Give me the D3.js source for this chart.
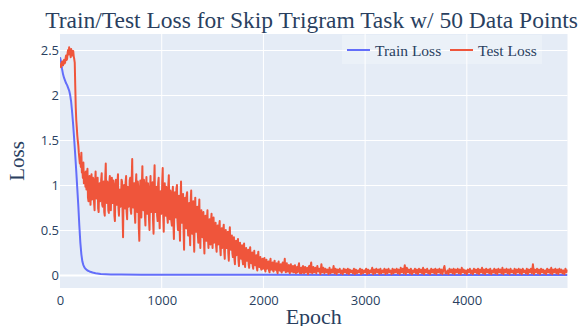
<!DOCTYPE html>
<html>
<head>
<meta charset="utf-8">
<script src="https://cdn.jsdelivr.net/npm/d3@7/dist/d3.min.js"></script>
<style>
  html, body { margin: 0; padding: 0; background: #ffffff; }
  svg { display: block; }
</style>
</head>
<body>
<svg id="chart" width="585" height="326"></svg>
<script>
// ---- data -------------------------------------------------------------
const titleText = "Train/Test Loss for Skip Trigram Task w/ 50 Data Points";
const seriesNames = ["Train Loss", "Test Loss"];
const xTicks = [0, 1000, 2000, 3000, 4000];
const yTicks = [0, 0.5, 1, 1.5, 2, 2.5];
const yTickLabels = ["0", "0.5", "1", "1.5", "2", "2.5"];

// train loss, logged at these epochs
const trainEpochs = [0, 10, 20, 30, 40, 50, 60, 70, 80, 90, 100, 110, 120, 130, 140, 150,
  160, 170, 180, 190, 200, 210, 220, 230, 240, 250, 270, 290, 320, 350, 400, 450, 500,
  600, 800, 1000, 1500, 2000, 3000, 4000, 4990];
const trainLoss = [2.42, 2.37, 2.29, 2.23, 2.19, 2.16, 2.13, 2.11, 2.08, 2.05, 2.00, 1.92,
  1.80, 1.66, 1.50, 1.33, 1.15, 0.96, 0.77, 0.55, 0.36, 0.23, 0.15, 0.11, 0.085, 0.07,
  0.05, 0.04, 0.028, 0.02, 0.012, 0.009, 0.007, 0.005, 0.004, 0.003, 0.002, 0.002,
  0.001, 0.001, 0.001];

// test loss, every 5 epochs during epochs 0 .. 2495
const testStepEarly = 5;
const testLossEarly = [
  2.35, 2.33, 2.31, 2.36, 2.37, 2.34, 2.33, 2.38, 2.39, 2.35, 2.36, 2.41, 2.44, 2.39, 2.40, 2.47, 2.50, 2.45, 2.53, 2.48,
  2.47, 2.42, 2.51, 2.46, 2.44, 2.49, 2.49, 2.43, 2.40, 2.36, 2.10, 1.86, 1.72, 1.64, 1.55, 1.49, 1.44, 1.36, 1.30, 1.24,
  1.30, 1.20, 1.36, 1.14, 1.18, 1.08, 1.25, 1.02, 1.08, 1.14, 0.98, 1.15, 0.95, 1.10, 1.18, 0.86, 0.82, 1.08, 1.10, 0.90,
  0.78, 1.05, 1.12, 0.84, 0.92, 1.08, 1.05, 0.80, 0.72, 1.02, 1.15, 0.88, 0.85, 1.06, 1.08, 0.74, 0.70, 0.98, 1.02, 0.82,
  0.88, 1.06, 1.13, 0.78, 0.76, 1.00, 1.04, 0.70, 0.66, 1.08, 1.24, 0.82, 0.80, 1.04, 0.98, 0.72, 0.69, 1.02, 1.10, 0.84,
  0.72, 1.00, 1.08, 0.80, 0.85, 1.05, 0.99, 0.66, 0.60, 0.96, 1.06, 0.84, 0.78, 1.02, 1.12, 0.74, 0.66, 0.94, 0.95, 0.76,
  0.82, 1.06, 1.04, 0.70, 0.42, 0.92, 1.00, 0.78, 0.74, 1.03, 1.10, 0.70, 0.62, 0.98, 0.97, 0.76, 0.80, 1.05, 1.08, 0.72,
  0.68, 1.05, 1.29, 0.80, 0.75, 0.98, 1.02, 0.68, 0.58, 1.00, 1.12, 0.78, 0.70, 1.04, 0.96, 0.52, 0.38, 0.90, 1.05, 0.74,
  0.64, 1.00, 1.21, 0.82, 0.72, 1.06, 1.00, 0.66, 0.55, 0.96, 1.09, 0.74, 0.68, 1.02, 0.94, 0.62, 0.50, 0.92, 1.10, 0.70,
  0.74, 0.98, 1.03, 0.60, 0.46, 1.00, 1.22, 0.76, 0.70, 0.94, 0.98, 0.66, 0.60, 1.02, 1.08, 0.70, 0.52, 0.88, 0.93, 0.68,
  0.76, 1.04, 1.19, 0.66, 0.48, 0.90, 1.02, 0.72, 0.66, 0.98, 0.95, 0.64, 0.58, 1.00, 1.11, 0.70, 0.62, 0.94, 0.90, 0.60,
  0.55, 0.90, 0.98, 0.58, 0.40, 0.86, 0.92, 0.66, 0.64, 0.96, 1.00, 0.60, 0.50, 0.84, 0.88, 0.56, 0.38, 0.80, 1.04, 0.62,
  0.58, 0.84, 0.90, 0.50, 0.28, 0.76, 0.86, 0.60, 0.52, 0.88, 0.92, 0.56, 0.44, 0.78, 0.80, 0.48, 0.33, 0.82, 0.94, 0.54,
  0.46, 0.76, 0.82, 0.44, 0.26, 0.70, 0.86, 0.56, 0.48, 0.72, 0.76, 0.46, 0.36, 0.70, 0.84, 0.50, 0.30, 0.64, 0.72, 0.44,
  0.42, 0.64, 0.70, 0.38, 0.24, 0.58, 0.66, 0.42, 0.38, 0.62, 0.72, 0.40, 0.30, 0.56, 0.62, 0.36, 0.34, 0.60, 0.68, 0.40,
  0.30, 0.56, 0.64, 0.36, 0.40, 0.52, 0.58, 0.32, 0.26, 0.50, 0.55, 0.34, 0.36, 0.54, 0.60, 0.30, 0.22, 0.46, 0.52, 0.30,
  0.33, 0.50, 0.56, 0.26, 0.18, 0.44, 0.50, 0.30, 0.30, 0.46, 0.48, 0.24, 0.16, 0.42, 0.53, 0.30, 0.28, 0.40, 0.44, 0.24,
  0.20, 0.36, 0.42, 0.18, 0.12, 0.32, 0.38, 0.22, 0.24, 0.36, 0.40, 0.16, 0.10, 0.30, 0.36, 0.20, 0.18, 0.30, 0.33, 0.16,
  0.12, 0.28, 0.35, 0.14, 0.09, 0.26, 0.30, 0.16, 0.16, 0.24, 0.28, 0.12, 0.08, 0.24, 0.31, 0.15, 0.13, 0.22, 0.25, 0.10,
  0.07, 0.21, 0.27, 0.12, 0.11, 0.19, 0.22, 0.08, 0.05, 0.20, 0.26, 0.10, 0.09, 0.17, 0.20, 0.08, 0.06, 0.15, 0.18, 0.07,
  0.10, 0.16, 0.19, 0.06, 0.04, 0.14, 0.17, 0.07, 0.08, 0.13, 0.15, 0.05, 0.03, 0.14, 0.18, 0.06, 0.07, 0.12, 0.14, 0.05,
  0.04, 0.12, 0.16, 0.07, 0.06, 0.11, 0.13, 0.04, 0.02, 0.12, 0.15, 0.06, 0.05, 0.10, 0.12, 0.04, 0.03, 0.11, 0.14, 0.05,
  0.06, 0.12, 0.18, 0.05, 0.03, 0.10, 0.13, 0.04, 0.05, 0.09, 0.11, 0.03, 0.02, 0.09, 0.12, 0.04, 0.04, 0.08, 0.10, 0.03,
  0.03, 0.08, 0.11, 0.04, 0.02, 0.07, 0.09, 0.03, 0.04, 0.10, 0.13, 0.05, 0.02, 0.07, 0.08, 0.02, 0.03, 0.09, 0.10, 0.04,
  0.02, 0.07, 0.09, 0.03, 0.04, 0.06, 0.08, 0.02, 0.01, 0.08, 0.10, 0.04, 0.03, 0.11, 0.14, 0.05, 0.02, 0.07, 0.09, 0.03
];

// test loss, every 10 epochs during epochs 2500 .. 4990
const testStartLate = 2500;
const testStepLate = 10;
const testLossLate = [
  0.03, 0.08, 0.02, 0.10, 0.04, 0.07, 0.01, 0.12, 0.03, 0.08,
  0.02, 0.07, 0.03, 0.06, 0.01, 0.08, 0.02, 0.06, 0.03, 0.10,
  0.02, 0.07, 0.01, 0.06, 0.03, 0.07, 0.02, 0.05, 0.01, 0.07,
  0.03, 0.06, 0.02, 0.07, 0.01, 0.06, 0.03, 0.05, 0.02, 0.07,
  0.01, 0.06, 0.02, 0.05, 0.03, 0.07, 0.01, 0.06, 0.02, 0.05,
  0.03, 0.07, 0.01, 0.06, 0.02, 0.05, 0.03, 0.08, 0.01, 0.06,
  0.02, 0.07, 0.03, 0.06, 0.01, 0.07, 0.02, 0.05, 0.03, 0.07,
  0.01, 0.06, 0.02, 0.07, 0.03, 0.05, 0.01, 0.07, 0.02, 0.06,
  0.03, 0.07, 0.02, 0.06, 0.01, 0.08, 0.03, 0.07, 0.02, 0.11,
  0.01, 0.08, 0.03, 0.06, 0.02, 0.07, 0.01, 0.05, 0.03, 0.07,
  0.02, 0.06, 0.01, 0.07, 0.03, 0.06, 0.02, 0.08, 0.01, 0.06,
  0.03, 0.07, 0.02, 0.05, 0.01, 0.07, 0.03, 0.06, 0.02, 0.07,
  0.01, 0.06, 0.03, 0.07, 0.02, 0.06, 0.01, 0.06, 0.10, 0.02,
  0.02, 0.05, 0.01, 0.07, 0.03, 0.06, 0.02, 0.07, 0.01, 0.06,
  0.03, 0.07, 0.02, 0.06, 0.01, 0.08, 0.03, 0.06, 0.02, 0.05,
  0.01, 0.06, 0.03, 0.07, 0.02, 0.05, 0.01, 0.07, 0.03, 0.06,
  0.02, 0.07, 0.01, 0.06, 0.03, 0.08, 0.02, 0.06, 0.01, 0.07,
  0.03, 0.06, 0.02, 0.07, 0.01, 0.05, 0.03, 0.07, 0.02, 0.06,
  0.01, 0.07, 0.03, 0.06, 0.02, 0.08, 0.01, 0.06, 0.03, 0.07,
  0.02, 0.06, 0.01, 0.07, 0.03, 0.05, 0.02, 0.07, 0.01, 0.06,
  0.03, 0.07, 0.02, 0.06, 0.01, 0.07, 0.03, 0.05, 0.02, 0.07,
  0.01, 0.06, 0.03, 0.07, 0.02, 0.12, 0.01, 0.06, 0.03, 0.07,
  0.02, 0.06, 0.01, 0.07, 0.03, 0.06, 0.02, 0.05, 0.01, 0.07,
  0.03, 0.06, 0.02, 0.08, 0.01, 0.06, 0.03, 0.07, 0.02, 0.06,
  0.01, 0.07, 0.03, 0.06, 0.02, 0.05, 0.01, 0.07, 0.03, 0.06
];

// ---- layout -----------------------------------------------------------
const plot = { left: 60, right: 567.5, top: 34, bottom: 288 };
const colors = { train: "#636efa", test: "#ef553b", bg: "#e5ecf6", text: "#2a3f5f" };
const serif = "'Liberation Serif', 'Times New Roman', serif";
const sans = "'Open Sans', 'Noto Sans', sans-serif";

const svg = d3.select("#chart");

const x = d3.scaleLinear().domain([0, 4990]).range([plot.left, plot.right]);
const y = d3.scaleLinear().domain([-0.144, 2.678]).range([plot.bottom, plot.top]);

// plot background
svg.append("rect")
  .attr("x", plot.left).attr("y", plot.top)
  .attr("width", plot.right - plot.left).attr("height", plot.bottom - plot.top)
  .attr("fill", colors.bg);

// grid
const grid = svg.append("g");
grid.selectAll("line.gx").data(xTicks.filter(d => d > 0)).join("line")
  .attr("x1", d => x(d)).attr("x2", d => x(d))
  .attr("y1", plot.top).attr("y2", plot.bottom)
  .attr("stroke", "#ffffff").attr("stroke-width", 1);
grid.selectAll("line.gy").data(yTicks).join("line")
  .attr("x1", plot.left).attr("x2", plot.right)
  .attr("y1", d => Math.round(y(d)) + 0.5).attr("y2", d => Math.round(y(d)) + 0.5)
  .attr("stroke", "#ffffff").attr("stroke-width", d => d === 0 ? 2 : 1);

// axes (tick text only, no domain path)
const xAxis = d3.axisBottom(x).tickValues(xTicks).tickSize(0).tickPadding(0).tickFormat(d3.format("d"));
const gx = svg.append("g").attr("transform", `translate(0,${plot.bottom})`).call(xAxis);
gx.select(".domain").remove();
gx.selectAll("text")
  .attr("y", 17).attr("dy", 0)
  .style("font-family", sans).style("font-size", "13px").attr("fill", colors.text);

const yAxis = d3.axisLeft(y).tickValues(yTicks).tickSize(0).tickPadding(0)
  .tickFormat((d, i) => yTickLabels[i]);
const gy = svg.append("g").attr("transform", `translate(${plot.left - 1},0)`).call(yAxis);
gy.select(".domain").remove();
gy.selectAll("text")
  .attr("x", 0).attr("dy", "0.35em")
  .style("font-family", sans).style("font-size", "13px").attr("fill", colors.text);

// clip for the traces
svg.append("clipPath").attr("id", "plotclip").append("rect")
  .attr("x", plot.left).attr("y", plot.top)
  .attr("width", plot.right - plot.left).attr("height", plot.bottom - plot.top);

const traces = svg.append("g").attr("clip-path", "url(#plotclip)");

const trainPts = trainEpochs.map((e, i) => [e, trainLoss[i]]);
const testPts = testLossEarly.map((v, i) => [i * testStepEarly, v])
  .concat(testLossLate.map((v, i) => [testStartLate + i * testStepLate, v]));

const line = d3.line().x(d => x(d[0])).y(d => y(d[1]));

traces.append("path").datum(trainPts)
  .attr("d", line).attr("fill", "none")
  .attr("stroke", colors.train).attr("stroke-width", 2)
  .attr("stroke-linejoin", "round");
traces.append("path").datum(testPts)
  .attr("d", line).attr("fill", "none")
  .attr("stroke", colors.test).attr("stroke-width", 2)
  .attr("stroke-linejoin", "round");

// title
svg.append("text")
  .attr("x", 311.5).attr("y", 28)
  .attr("text-anchor", "middle")
  .style("font-family", serif).style("font-size", "23.5px")
  .attr("fill", colors.text).text(titleText);

// axis titles
svg.append("text")
  .attr("x", (plot.left + plot.right) / 2).attr("y", 324)
  .attr("text-anchor", "middle")
  .style("font-family", serif).style("font-size", "22px")
  .attr("fill", colors.text).text("Epoch");
svg.append("text")
  .attr("transform", `translate(23.5,${(plot.top + plot.bottom) / 2}) rotate(-90)`)
  .attr("text-anchor", "middle")
  .style("font-family", serif).style("font-size", "21px")
  .attr("fill", colors.text).text("Loss");

// legend
const legend = svg.append("g");
legend.append("rect")
  .attr("x", 342).attr("y", 35).attr("width", 200).attr("height", 29)
  .attr("fill", "rgba(255,255,255,0.25)");
const items = [
  { name: seriesNames[0], color: colors.train, x0: 347 },
  { name: seriesNames[1], color: colors.test, x0: 450 }
];
items.forEach(it => {
  legend.append("line")
    .attr("x1", it.x0).attr("x2", it.x0 + 23)
    .attr("y1", 50).attr("y2", 50)
    .attr("stroke", it.color).attr("stroke-width", 2);
  legend.append("text")
    .attr("x", it.x0 + 28).attr("y", 55.5)
    .style("font-family", serif).style("font-size", "15.5px")
    .attr("fill", colors.text).text(it.name);
});
</script>
</body>
</html>
